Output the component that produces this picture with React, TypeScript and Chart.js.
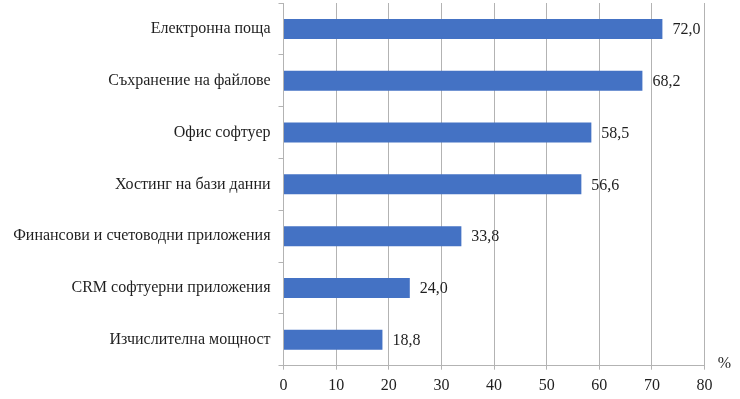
import React, { useEffect, useRef } from "react";
import { Chart, registerables } from "chart.js";

Chart.register(...registerables);

const categories = [
  "Електронна поща",
  "Съхранение на файлове",
  "Офис софтуер",
  "Хостинг на бази данни",
  "Финансови и счетоводни приложения",
  "CRM софтуерни приложения",
  "Изчислителна мощност",
];
const values = [72.0, 68.2, 58.5, 56.6, 33.8, 24.0, 18.8];
const axisMin = 0;
const axisMax = 80;
const axisStep = 10;
const unitLabel = "%";

const FONT = "'Liberation Serif', 'Times New Roman', serif";
const TEXT = "#1f1f1f";
const GRID = "#b3b3b3";

const labelPlugin = {
  id: "valueLabels",
  afterDatasetsDraw(chart: any) {
    const ctx = chart.ctx;
    const meta = chart.getDatasetMeta(0);
    ctx.save();
    ctx.font = `16px ${FONT}`;
    ctx.fillStyle = TEXT;
    ctx.textAlign = "left";
    ctx.textBaseline = "middle";
    meta.data.forEach((bar: any, i: number) => {
      const v = values[i];
      ctx.fillText(v.toFixed(1).replace(".", ","), bar.x + 10, bar.y + 1);
    });
    const ca = chart.chartArea;
    ctx.textAlign = "center";
    ctx.fillText(unitLabel, ca.right + 20, ca.bottom - 2);
    ctx.restore();
  },
};

export default function App() {
  const ref = useRef<HTMLCanvasElement>(null);
  useEffect(() => {
    if (!ref.current) return;
    const chart = new Chart(ref.current, {
      type: "bar",
      data: {
        labels: categories,
        datasets: [
          {
            data: values,
            backgroundColor: "#4472C4",
            borderWidth: 0,
            barPercentage: 0.386,
            categoryPercentage: 1,
          },
        ],
      },
      options: {
        indexAxis: "y",
        animation: false,
        responsive: false,
        layout: { padding: { top: 3, right: 35.5, bottom: 0, left: 0 } },
        plugins: { legend: { display: false }, tooltip: { enabled: false } },
        scales: {
          x: {
            min: axisMin,
            max: axisMax,
            ticks: {
              stepSize: axisStep,
              color: TEXT,
              font: { family: FONT, size: 16 },
              padding: 6,
            },
            grid: { color: GRID, tickLength: 4, lineWidth: 1 },
            border: { color: GRID },
            afterFit(scale: any) {
              scale.height = 33.3;
              scale.paddingLeft = 0;
              scale.paddingRight = 0;
            },
          },
          y: {
            ticks: {
              color: TEXT,
              font: { family: FONT, size: 16 },
              padding: 8,
            },
            grid: { drawOnChartArea: false, color: GRID, tickLength: 5, offset: true },
            border: { color: GRID },
            afterFit(scale: any) {
              scale.width = 283.5;
              scale.paddingTop = 0;
              scale.paddingBottom = 0;
            },
          },
        },
      },
      plugins: [labelPlugin],
    });
    return () => chart.destroy();
  }, []);
  return (
    <div style={{ position: "fixed", left: 0, top: 0, width: 740, height: 399, background: "#fff" }}>
      <canvas ref={ref} width={740} height={399} style={{ width: 740, height: 399 }} />
    </div>
  );
}
